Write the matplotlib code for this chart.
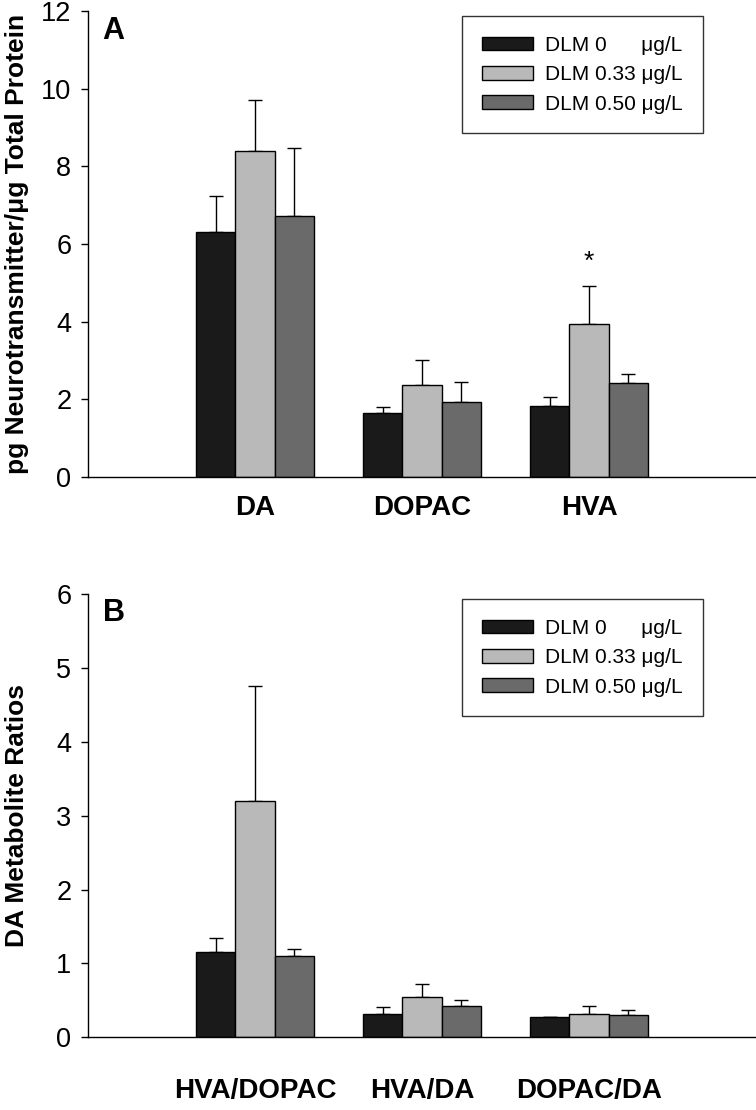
import matplotlib as mpl
mpl.use("Agg")
import matplotlib.pyplot as plt
import numpy as np

plt.rcParams['font.family'] = ['Liberation Sans', 'DejaVu Sans']

# panel A data
groups_a = ['DA', 'DOPAC', 'HVA']
mean_a_0 = [6.31, 1.66, 1.84]
mean_a_033 = [8.40, 2.37, 3.94]
mean_a_050 = [6.73, 1.94, 2.41]
err_a_0 = [0.93, 0.14, 0.23]
err_a_033 = [1.32, 0.63, 0.98]
err_a_050 = [1.73, 0.50, 0.24]

# panel B data
groups_b = ['HVA/DOPAC', 'HVA/DA', 'DOPAC/DA']
mean_b_0 = [1.16, 0.31, 0.27]
mean_b_033 = [3.20, 0.54, 0.32]
mean_b_050 = [1.10, 0.43, 0.30]
err_b_0 = [0.18, 0.10, 0.01]
err_b_033 = [1.56, 0.18, 0.10]
err_b_050 = [0.09, 0.07, 0.07]

labels = ['DLM 0' + ' ' * 5 + ' \u03bcg/L', 'DLM 0.33 \u03bcg/L', 'DLM 0.50 \u03bcg/L']
colors = ['#1a1a1a', '#b9b9b9', '#6a6a6a']

fig = plt.figure(figsize=(7.56, 11.10), dpi=100)
ax_a = fig.add_axes([0.1164, 0.5703, 0.8836, 0.4198])
ax_b = fig.add_axes([0.1164, 0.0655, 0.8836, 0.3994])

width = 0.234


def draw(ax, groups, means, errs, ymax, ylabel, letter, leg_y, xpad):
    x = np.arange(len(groups))
    for k, (m, e) in enumerate(zip(means, errs)):
        pos = x + (k - 1) * width
        ax.bar(pos, m, width, color=colors[k], edgecolor='black', linewidth=1.0,
               label=labels[k], zorder=2)
        ax.errorbar(pos, m, yerr=[np.zeros(len(e)), e], fmt='none', ecolor='black',
                    elinewidth=1.0, capsize=5, capthick=1.0, zorder=1)
    ax.set_xlim(-1, 3)
    ax.set_ylim(0, ymax)
    ax.set_xticks(x)
    ax.set_xticklabels(groups, fontsize=20, fontweight='bold')
    ax.tick_params(axis='x', length=0, pad=xpad)
    ax.tick_params(axis='y', labelsize=19.5, length=5, width=1.0, direction='out', pad=7)
    ax.spines['top'].set_visible(False)
    ax.spines['right'].set_visible(False)
    ax.spines['left'].set_linewidth(1.0)
    ax.spines['bottom'].set_linewidth(1.0)
    ax.set_ylabel(ylabel, fontsize=19, fontweight='bold')
    ax.yaxis.set_label_coords(-0.089, 0.5)
    ax.text(0.022, 0.99, letter, transform=ax.transAxes, fontsize=22,
            fontweight='bold', va='top', ha='left')
    leg = ax.legend(loc='upper left', bbox_to_anchor=(0.611, leg_y),
                    bbox_transform=fig.transFigure, borderaxespad=0,
                    fontsize=15, frameon=True, fancybox=False, edgecolor='black',
                    handlelength=2.45, handleheight=0.63, handletextpad=0.6,
                    labelspacing=0.5, borderpad=0.95)
    leg.get_frame().set_linewidth(1.0)


draw(ax_a, groups_a, [mean_a_0, mean_a_033, mean_a_050],
     [err_a_0, err_a_033, err_a_050], 12,
     'pg Neurotransmitter/\u03bcg Total Protein', 'A', 0.9856, 13)
ax_a.set_yticks(range(0, 13, 2))
# significance marker above HVA, 0.33 group
ax_a.text(2, mean_a_033[2] + err_a_033[2] + 0.62, '*', ha='center', va='center',
          fontsize=19)

draw(ax_b, groups_b, [mean_b_0, mean_b_033, mean_b_050],
     [err_b_0, err_b_033, err_b_050], 6,
     'DA Metabolite Ratios', 'B', 0.4604, 29)
ax_b.set_yticks(range(0, 7))

fig.savefig('out.png', dpi=100)
